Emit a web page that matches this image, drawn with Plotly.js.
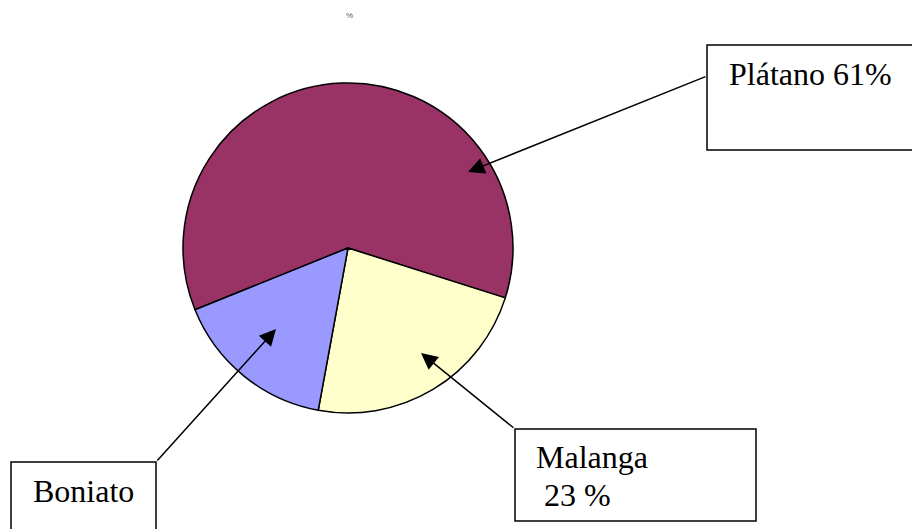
<!DOCTYPE html>
<html>
<head>
<meta charset="utf-8">
<script src="https://cdn.plot.ly/plotly-3.0.1.min.js"></script>
<style>
  html, body { margin: 0; padding: 0; background: #fff; }
  #chart { width: 912px; height: 529px; }
</style>
</head>
<body>
<div id="chart"></div>
<script>
// Data
const categories = ["Plátano", "Malanga", "Boniato"];
const values = [61, 23, 16];
const calloutLines = ["Plátano 61%", "Malanga", "\u00A023 %", "Boniato"];
const chartTitle = "%";

// Styles
const sliceColors = ["#993366", "#FFFFCC", "#9999FF"];
const W = 912, H = 529;
const serif = "'Liberation Serif', 'Times New Roman', 'DejaVu Serif', serif";

const pie = {
  type: "pie",
  labels: categories,
  values: values,
  sort: false,
  direction: "clockwise",
  rotation: 248,
  textinfo: "none",
  hoverinfo: "none",
  showlegend: false,
  marker: { colors: sliceColors, line: { color: "#000", width: 1.5 } },
  domain: { x: [183 / W, 513 / W], y: [1 - 413 / H, 1 - 83 / H] }
};

const boxes = [
  [707, 45, 920, 150],
  [515, 429, 756, 521],
  [11, 462, 156, 540]
];
const shapes = boxes.map(b => ({
  type: "rect", xref: "x", yref: "y",
  x0: b[0], y0: b[1], x1: b[2], y1: b[3],
  line: { color: "#000", width: 1.5 }, fillcolor: "rgba(0,0,0,0)"
}));

const arrows = [
  { tip: [468, 172], tail: [707, 76] },
  { tip: [421, 353], tail: [515, 429] },
  { tip: [276, 329], tail: [156, 462] }
];
const arrowAnns = arrows.map(a => ({
  xref: "x", yref: "y", axref: "x", ayref: "y",
  x: a.tip[0], y: a.tip[1], ax: a.tail[0], ay: a.tail[1],
  text: "", showarrow: true, arrowhead: 2, arrowsize: 2.2, arrowwidth: 1.5,
  arrowcolor: "#000", standoff: 0, startstandoff: 0
}));

const textPos = [
  { x: 727, y: 73.5 },
  { x: 534, y: 456.5 },
  { x: 534, y: 494.5 },
  { x: 31, y: 490.5 }
];
const textAnns = calloutLines.map((t, i) => ({
  xref: "x", yref: "y", x: textPos[i].x, y: textPos[i].y,
  xanchor: "left", yanchor: "middle", align: "left",
  text: t, showarrow: false,
  font: { family: serif, size: 32, color: "#000" }
}));

const titleAnn = {
  xref: "x", yref: "y", x: 349, y: 15, xanchor: "center", yanchor: "middle",
  text: chartTitle, showarrow: false,
  font: { family: "'Liberation Sans', Arial, sans-serif", size: 8, color: "#555" }
};

const layout = {
  width: W, height: H,
  margin: { l: 0, r: 0, t: 0, b: 0 },
  paper_bgcolor: "#fff", plot_bgcolor: "rgba(0,0,0,0)",
  font: { family: serif },
  xaxis: { range: [0, W], visible: false, fixedrange: true },
  yaxis: { range: [H, 0], visible: false, fixedrange: true },
  shapes: shapes,
  annotations: arrowAnns.concat(textAnns, [titleAnn])
};

Plotly.newPlot("chart", [pie], layout, { displayModeBar: false, staticPlot: true });
</script>
</body>
</html>
